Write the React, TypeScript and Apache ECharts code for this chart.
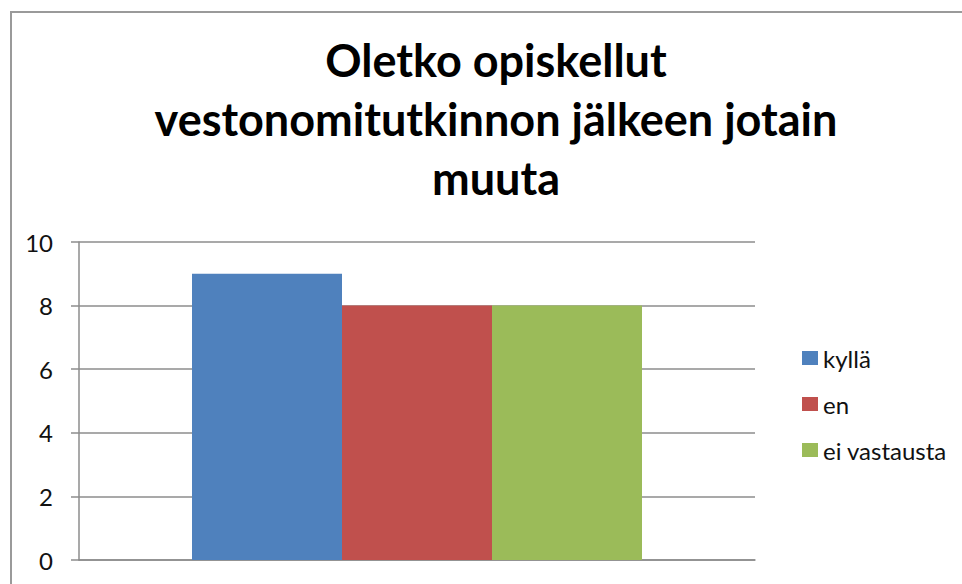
import React, { useEffect, useRef } from "react";
import * as echarts from "echarts";

const titleLines = ["Oletko opiskellut", "vestonomitutkinnon jälkeen jotain", "muuta"];
const categories = [""];
const seriesNames = ["kyllä", "en", "ei vastausta"];
const seriesValues = [[9], [8], [8]];
const seriesColors = ["#4F81BD", "#C0504D", "#9BBB59"];
const yTicks = { min: 0, max: 10, interval: 2 };

export default function App() {
  const ref = useRef<HTMLDivElement>(null);
  useEffect(() => {
    document.body.style.margin = "0";
    const chart = echarts.init(ref.current!, null, { renderer: "svg" });
    chart.setOption({
      animation: false,
      backgroundColor: "#fff",
      title: {
        text: titleLines.join("\n"),
        left: 491,
        top: 25,
        textAlign: "center",
        textStyle: {
          fontFamily: "Lato",
          fontWeight: "bold",
          fontSize: 45,
          lineHeight: 59,
          color: "#000",
        },
      },
      graphic: [
        {
          type: "rect",
          shape: { x: 11, y: 12, width: 1000, height: 1000 },
          style: { fill: "none", stroke: "#9a9a9a", lineWidth: 2 },
          silent: true,
        },
      ],
      legend: {
        orient: "vertical",
        left: 797,
        top: 341,
        itemWidth: 16,
        itemHeight: 14,
        itemGap: 22,
        icon: "rect",
        textStyle: { fontFamily: "Lato", fontSize: 24, color: "#111" },
        data: seriesNames,
      },
      grid: { left: 79, right: 207, top: 242, bottom: 24, containLabel: false },
      xAxis: {
        type: "category",
        data: categories,
        axisLine: { lineStyle: { color: "#8c8c8c", width: 1.5 } },
        axisTick: { show: false },
        axisLabel: { show: false },
      },
      yAxis: {
        type: "value",
        min: yTicks.min,
        max: yTicks.max,
        interval: yTicks.interval,
        axisLine: { show: true, lineStyle: { color: "#8c8c8c", width: 1.5 } },
        axisTick: { show: true, length: 8, lineStyle: { color: "#8c8c8c", width: 1.5 } },
        axisLabel: { fontFamily: "Lato", fontSize: 24, color: "#111", margin: 26 },
        splitLine: { lineStyle: { color: "#8c8c8c", width: 1.5 } },
      },
      series: seriesNames.map((name, i) => ({
        name,
        type: "bar",
        data: seriesValues[i],
        barWidth: 150,
        barGap: "0%",
        itemStyle: { color: seriesColors[i] },
      })),
    });
    return () => chart.dispose();
  }, []);
  return <div ref={ref} style={{ width: 962, height: 584 }} />;
}
